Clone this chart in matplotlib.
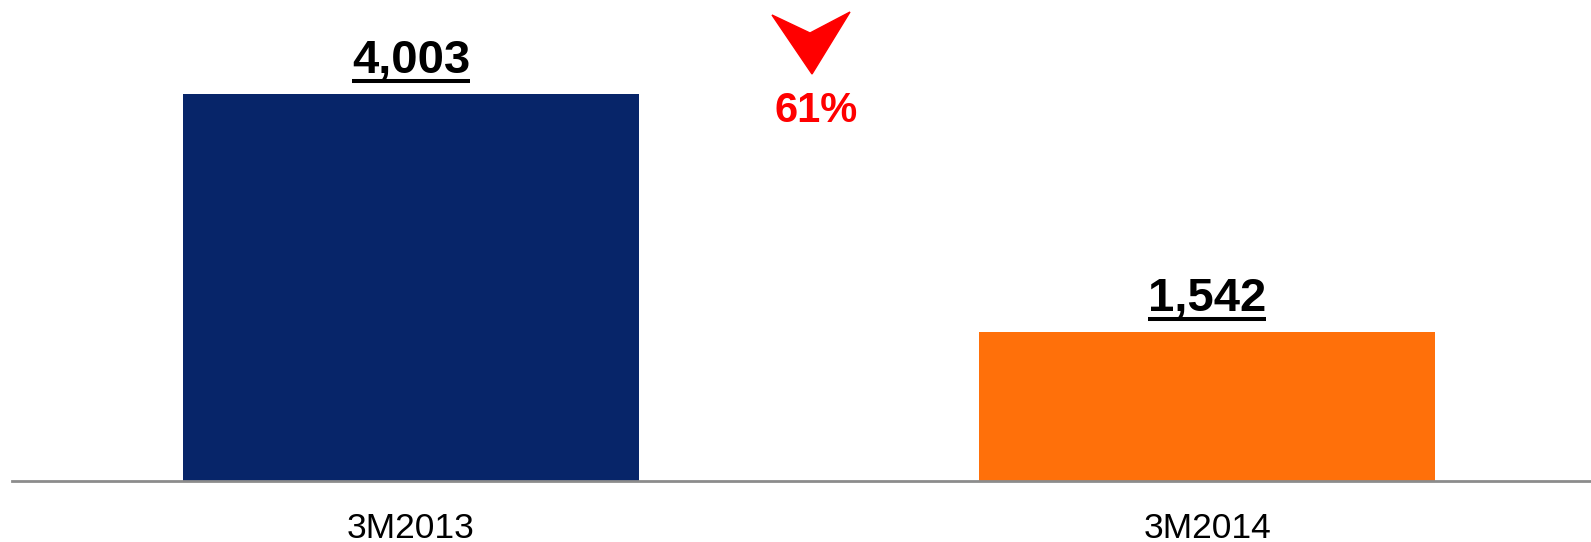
import matplotlib.pyplot as plt
from matplotlib.lines import Line2D
from matplotlib.patches import Polygon

plt.rcParams['font.family'] = ['Liberation Sans', 'DejaVu Sans']

categories = ['3M2013', '3M2014']
values = [4003, 1542]
colors = ['#072569', '#FF700A']
change_label = '61%'

W, H = 1591, 542
fig = plt.figure(figsize=(W / 100, H / 100), dpi=100)
# axes: from x=12px to right edge, baseline at 481px from top
ax = fig.add_axes([12 / W, 61 / H, 1 - 12 / W, 481 / H])
ax.set_xlim(-0.501, 1.482)
ax.set_ylim(0, 4975)

x = range(len(categories))
bars = ax.bar(x, values, width=0.573, color=colors)

for s in ['top', 'right', 'left']:
    ax.spines[s].set_visible(False)
ax.spines['bottom'].set_color('#8c8c8c')
ax.spines['bottom'].set_linewidth(2)
ax.set_yticks([])
ax.set_xticks(list(x))
ax.set_xticklabels(categories, fontsize=25.5)
ax.tick_params(axis='x', length=0, pad=22)

# underlined value labels
labels = []
for b, v in zip(bars, values):
    t = ax.annotate(f'{v:,}', (b.get_x() + b.get_width() / 2, v),
                    xytext=(0, 15), textcoords='offset points',
                    ha='center', va='baseline', fontsize=34, fontweight='bold')
    labels.append((t, v))

fig.canvas.draw()
r = fig.canvas.get_renderer()
for t, v in labels:
    bb = t.get_window_extent(r)
    # underline sits 13px above the bar top
    y = ax.transData.transform((0, v))[1] + 12.5
    fig.add_artist(Line2D([bb.x0 / W, bb.x1 / W], [y / H, y / H],
                          color='black', linewidth=2.9, solid_capstyle='butt'))

# red down arrow + change text
arrow = [(772, 15), (810, 33), (850, 12), (812, 74)]
fig.add_artist(Polygon([(px / W, 1 - py / H) for px, py in arrow],
                       closed=True, color='#FF0000', transform=fig.transFigure))
fig.text(816 / W, 1 - 111 / H, change_label, color='#FF0000', fontsize=30,
         fontweight='bold', ha='center', va='center')

fig.savefig('out.png', dpi=100)
